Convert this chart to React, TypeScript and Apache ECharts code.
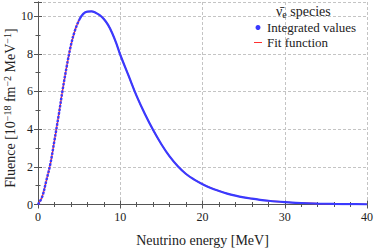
import React, { useEffect, useRef } from "react";
import * as echarts from "echarts";

const energy = [0, 0.5, 1, 1.5, 2, 2.5, 3, 3.5, 4, 4.5, 5, 5.5, 6, 6.5, 7, 7.5, 8, 8.5, 9, 9.5, 10, 11, 12, 13, 14, 15, 16, 17, 18, 19, 20, 21, 22, 23, 24, 25, 26, 27, 28, 29, 30, 32, 34, 36, 38, 40];
const integratedValues = [0, 0.4, 1.25, 2.15, 3.4, 4.7, 6.1, 7.35, 8.45, 9.25, 9.8, 10.12, 10.24, 10.25, 10.18, 10.05, 9.85, 9.55, 9.12, 8.58, 7.95, 6.85, 5.75, 4.8, 3.95, 3.2, 2.55, 2.03, 1.62, 1.32, 1.08, 0.88, 0.72, 0.58, 0.47, 0.38, 0.31, 0.25, 0.2, 0.16, 0.13, 0.08, 0.05, 0.03, 0.02, 0.01];
const fitValues = [0, 0.4, 1.25, 2.15, 3.4, 4.7, 6.1, 7.35, 8.45, 9.25, 9.8, 10.12, 10.24, 10.25, 10.18, 10.05, 9.85, 9.55, 9.12, 8.58, 7.95, 6.85, 5.75, 4.8, 3.95, 3.2, 2.55, 2.03, 1.62, 1.32, 1.08, 0.88, 0.72, 0.58, 0.47, 0.38, 0.31, 0.25, 0.2, 0.16, 0.13, 0.08, 0.05, 0.03, 0.02, 0.01];
const xTicks = [0, 10, 20, 30, 40];
const yTicks = [0, 2, 4, 6, 8, 10];
const legendNames = ["Integrated values", "Fit function"];

const FONT = "'Liberation Serif', serif";
const BLUE = "#3a3aff";
const RED = "#ff3030";
const AXIS = "#555";
const TEXT = "#222";

export default function App() {
  const ref = useRef<HTMLDivElement>(null);
  useEffect(() => {
    const chart = echarts.init(ref.current!, null, { renderer: "svg" });
    const fit = energy.map((e, i) => [e, fitValues[i]]);
    const splitIdx = energy.indexOf(5);
    const rising = energy.slice(0, splitIdx + 1).map((e, i) => [e, integratedValues[i]]);
    const falling = energy.slice(splitIdx).map((e, i) => [e, integratedValues[i + splitIdx]]);
    const labelStyle = { fontFamily: FONT, fontSize: 12, color: TEXT };
    const xCommon = {
      type: "value",
      min: xTicks[0],
      max: xTicks[xTicks.length - 1],
      interval: 10,
      axisLine: { show: true, lineStyle: { color: AXIS, width: 1 } },
      axisTick: { show: true, inside: true, length: 4, lineStyle: { color: AXIS } },
      minorTick: { show: true, splitNumber: 5, length: 2.5, lineStyle: { color: AXIS } },
    };
    const yCommon = {
      type: "value",
      min: yTicks[0],
      max: 10.75,
      interval: 2,
      axisLine: { show: true, lineStyle: { color: AXIS, width: 1 } },
      axisTick: { show: true, inside: true, length: 4, lineStyle: { color: AXIS } },
      minorTick: { show: true, splitNumber: 2, length: 2.5, lineStyle: { color: AXIS } },
    };
    chart.setOption({
      animation: false,
      grid: { left: 38, right: 7, top: 2, bottom: 45.5, outerBoundsMode: "none", containLabel: false },
      title: {
        text: "{a|ν̄}{b|e}{a| species}",
        left: 276,
        top: 2,
        padding: [2, 0, 0, 0],
        textStyle: {
          fontWeight: "normal",
          rich: {
            a: { fontFamily: FONT, fontSize: 14, fontWeight: "normal", color: TEXT, lineHeight: 15 },
            b: { fontFamily: FONT, fontSize: 10, fontWeight: "normal", color: TEXT, lineHeight: 9, verticalAlign: "bottom" },
          },
        },
      },
      legend: {
        orient: "vertical",
        left: 254,
        top: 21,
        padding: 0,
        itemWidth: 8,
        itemHeight: 5,
        itemGap: 2,
        symbolKeepAspect: true,
        textStyle: { fontFamily: FONT, fontSize: 13, color: TEXT, lineHeight: 13 },
        data: [
          { name: legendNames[0], icon: "circle", itemStyle: { color: BLUE } },
          { name: legendNames[1], icon: "path://M0,0 L8,0 L8,1 L0,1 Z", itemStyle: { color: RED } },
        ],
      },
      graphic: [
        {
          type: "text",
          x: 10,
          y: 108,
          rotation: Math.PI / 2,
          style: {
            text: "{a|Fluence [10}{s|−18}{a| fm}{s|−2}{a| MeV}{s|−1}{a|]}",
            align: "center",
            verticalAlign: "middle",
            rich: {
              a: { fontFamily: FONT, fontSize: 14, fill: TEXT, lineHeight: 16 },
              s: { fontFamily: FONT, fontSize: 10, fill: TEXT, lineHeight: 10, verticalAlign: "top" },
            },
          },
        },
      ],
      xAxis: [
        {
          ...xCommon,
          name: "Neutrino energy [MeV]",
          nameLocation: "middle",
          nameGap: 29,
          nameTextStyle: { fontFamily: FONT, fontSize: 14, color: TEXT },
          axisLabel: { ...labelStyle, margin: 6 },
          splitLine: { show: true, lineStyle: { color: "#c4c4c4", type: [3, 2], width: 1 } },
        },
        {
          ...xCommon,
          position: "top",
          axisLabel: { show: false },
          splitLine: { show: false },
        },
      ],
      yAxis: [
        {
          ...yCommon,
          axisLabel: { ...labelStyle, margin: 5, showMaxLabel: false },
          splitLine: { show: true, lineStyle: { color: "#c4c4c4", type: [3, 2], width: 1 } },
        },
        {
          ...yCommon,
          position: "right",
          axisLabel: { show: false },
          splitLine: { show: false },
        },
      ],
      series: [
        {
          name: legendNames[1],
          type: "line",
          data: fit,
          smooth: 0.4,
          showSymbol: false,
          lineStyle: { color: RED, width: 1.3 },
          itemStyle: { color: RED },
          z: 2,
        },
        {
          name: legendNames[0],
          type: "line",
          data: rising,
          smooth: 0.4,
          showSymbol: false,
          lineStyle: { color: BLUE, width: 2.4, type: [2.5, 1.2] },
          itemStyle: { color: BLUE },
          z: 3,
        },
        {
          name: legendNames[0],
          type: "line",
          data: falling,
          smooth: 0.4,
          showSymbol: false,
          lineStyle: { color: BLUE, width: 2.2 },
          itemStyle: { color: BLUE },
          z: 3,
        },
      ],
    });
    return () => chart.dispose();
  }, []);
  return <div ref={ref} style={{ width: 374, height: 250, position: "absolute", left: 0, top: 0 }} />;
}
